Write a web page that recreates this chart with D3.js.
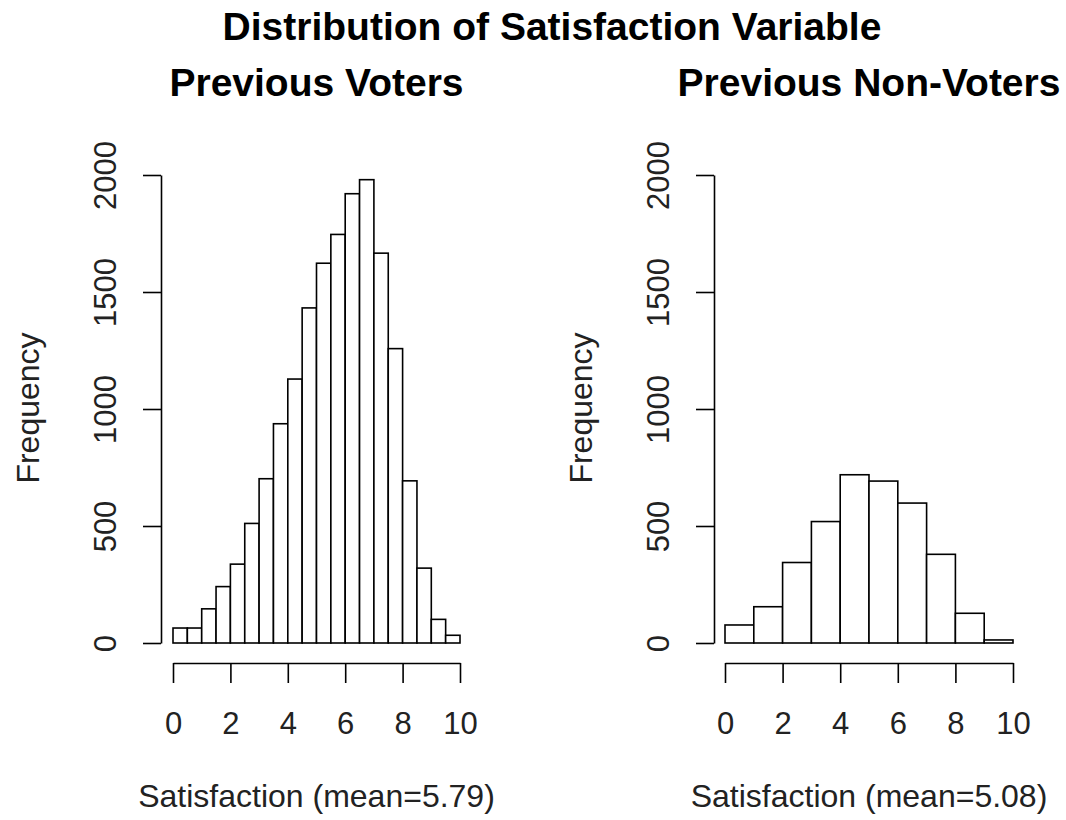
<!DOCTYPE html>
<html>
<head>
<meta charset="utf-8">
<script src="https://cdn.jsdelivr.net/npm/d3@7"></script>
<style>
  html, body { margin: 0; padding: 0; background: #fff; }
  svg { display: block; }
  text { font-family: "Liberation Sans", Arial, sans-serif; fill: #111; }
</style>
</head>
<body>
<svg id="chart" width="1066" height="820"></svg>
<script>
// Histogram bin edges and counts of the satisfaction score (0-10)
const voterBreaks = [0, 0.5, 1, 1.5, 2, 2.5, 3, 3.5, 4, 4.5, 5, 5.5, 6, 6.5, 7, 7.5, 8, 8.5, 9, 9.5, 10];
const voterCounts = [64, 64, 146, 241, 337, 511, 702, 937, 1128, 1432, 1623, 1746, 1920, 1980, 1666, 1258, 693, 320, 101, 33];

const nonVoterBreaks = [0, 1, 2, 3, 4, 5, 6, 7, 8, 9, 10];
const nonVoterCounts = [77, 155, 344, 519, 719, 692, 598, 379, 127, 13];

const xTicks = [0, 2, 4, 6, 8, 10];
const yTicks = [0, 500, 1000, 1500, 2000];

const mainTitle = "Distribution of Satisfaction Variable";
const panelTitles = ["Previous Voters", "Previous Non-Voters"];
const xLabels = ["Satisfaction (mean=5.79)", "Satisfaction (mean=5.08)"];
const yLabel = "Frequency";

const svg = d3.select("#chart");
const font = "Liberation Sans, Arial, sans-serif";

svg.append("text")
  .attr("x", 552).attr("y", 40)
  .attr("text-anchor", "middle")
  .style("font-size", "39px").style("font-weight", "bold").style("fill", "#000")
  .text(mainTitle);

const panels = [
  { breaks: voterBreaks, counts: voterCounts, x0: 173, x1: 460, axisX: 161, title: panelTitles[0], xlab: xLabels[0] },
  { breaks: nonVoterBreaks, counts: nonVoterCounts, x0: 725, x1: 1013, axisX: 714, title: panelTitles[1], xlab: xLabels[1] }
];

const y = d3.scaleLinear().domain([0, 2000]).range([643, 175]);

panels.forEach(p => {
  const x = d3.scaleLinear().domain([0, 10]).range([p.x0, p.x1]);
  const g = svg.append("g");
  // centre of the plotting region (x range padded by 4% on each side)
  const center = (x(-0.4) + x(10.4)) / 2;

  // Bars
  const bins = p.counts.map((c, i) => ({ lo: p.breaks[i], hi: p.breaks[i + 1], n: c }));
  g.selectAll("rect.bar").data(bins).join("rect")
    .attr("class", "bar")
    .attr("x", d => x(d.lo))
    .attr("width", d => x(d.hi) - x(d.lo))
    .attr("y", d => y(d.n))
    .attr("height", d => y(0) - y(d.n))
    .attr("fill", "#fff")
    .attr("stroke", "#000")
    .attr("stroke-width", 1.6);

  // Y axis with rotated tick labels
  const yAxis = g.append("g")
    .attr("transform", `translate(${p.axisX},0)`)
    .call(d3.axisLeft(y).tickValues(yTicks).tickSize(18).tickSizeOuter(0).tickFormat(d3.format("d")));
  yAxis.selectAll("path, line").attr("stroke", "#000").attr("stroke-width", 1.6);
  yAxis.selectAll("text")
    .attr("transform", "rotate(-90)")
    .attr("x", 0).attr("y", -45).attr("dy", null)
    .attr("text-anchor", "middle")
    .style("font-size", "31px").style("font-family", font).style("fill", "#222");

  // X axis
  const xAxis = g.append("g")
    .attr("transform", "translate(0,663)")
    .call(d3.axisBottom(x).tickValues(xTicks).tickSize(20).tickSizeOuter(0));
  xAxis.selectAll("path, line").attr("stroke", "#000").attr("stroke-width", 1.6);
  xAxis.selectAll("text")
    .attr("y", 71).attr("dy", null)
    .style("font-size", "31px").style("font-family", font).style("fill", "#222");

  // Panel title and axis labels
  g.append("text")
    .attr("x", center).attr("y", 96)
    .attr("text-anchor", "middle")
    .style("font-size", "39px").style("font-weight", "bold").style("fill", "#000")
    .text(p.title);

  g.append("text")
    .attr("x", center).attr("y", 807)
    .attr("text-anchor", "middle")
    .style("font-size", "32px").style("fill", "#222")
    .text(p.xlab);

  g.append("text")
    .attr("transform", `translate(${p.axisX - 122},408) rotate(-90)`)
    .attr("text-anchor", "middle")
    .style("font-size", "32px").style("fill", "#222")
    .text(yLabel);
});
</script>
</body>
</html>
